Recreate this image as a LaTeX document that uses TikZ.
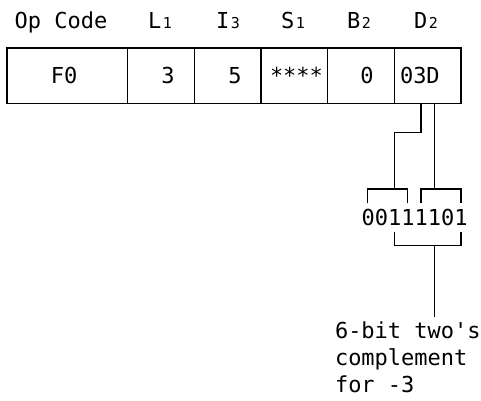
\documentclass[tikz,border=0pt]{standalone}
\usepackage{fontspec}
\setmonofont{DejaVu Sans Mono}
\newcommand{\sbn}[1]{{\fontsize{15}{15}\selectfont\kern1.5pt#1}}
\begin{document}
\begin{tikzpicture}[x=1pt,y=-1pt,
  txt/.style={inner sep=0pt,outer sep=0pt,font=\ttfamily\fontsize{22}{27}\selectfont},
  ln/.style={line width=1.2pt}]
\useasboundingbox (0,0) rectangle (481,400);
% header
\node[txt,anchor=base] (hop) at (61,28) {Op Code};
\node[txt,anchor=base] (hl) at (160,28) {L\sbn{1}};
\node[txt,anchor=base] (hi) at (228,28) {I\sbn{3}};
\node[txt,anchor=base] (hs) at (293,28) {S\sbn{1}};
\node[txt,anchor=base] (hb) at (359,28) {B\sbn{2}};
\node[txt,anchor=base] (hd) at (426,28) {D\sbn{2}};
% box
\draw[ln] (7,48) rectangle (461,103.5);
\foreach \x in {127.7,194.3,261,327.7,394.3}
  \draw[ln] (\x,48) -- (\x,103.5);
% values
\node[txt,anchor=base] (vop) at (64,83) {F0};
\node[txt,anchor=base] (vl) at (168,83) {3};
\node[txt,anchor=base] (vi) at (235,83) {5};
\node[txt,anchor=base west] (vs) at (270,83) {****};
\node[txt,anchor=base] (vb) at (367,83) {0};
\node[txt,anchor=base west] (vd) at (400,83) {03D};
% bits
\node[txt,anchor=base west] (bits) at (361.7,225) {00111101};
% coordinates
\coordinate (a0) at (421,103.5);
\coordinate (a1) at (421,132.3);
\coordinate (a2) at (394.3,132.3);
\coordinate (a3) at (394.3,189);
\coordinate (b0) at (434.3,103.5);
\coordinate (b3) at (434.3,189);
% top brackets
\draw[ln] (a0) -- (a1) -- (a2) -- (a3);
\draw[ln] (b0) -- (b3);
\draw[ln] (367.7,203.3) -- (367.7,189) -- (407.7,189) -- (407.7,203.3);
\draw[ln] (421,203.3) -- (421,189) -- (461,189) -- (461,203.3);
% bottom bracket
\draw[ln] (394.3,231.7) -- (394.3,245.7) -- (461,245.7) -- (461,231.7);
\coordinate (c0) at (434.3,245.7);
\coordinate (c1) at (434.3,316.7);
\draw[ln] (c0) -- (c1);
% note
\node[txt,anchor=base west] (n1) at (335,338.3) {6-bit two's};
\node[txt,anchor=base west] (n2) at (335,365.5) {complement};
\node[txt,anchor=base west] (n3) at (335,392.7) {for -3};
\end{tikzpicture}
\end{document}
